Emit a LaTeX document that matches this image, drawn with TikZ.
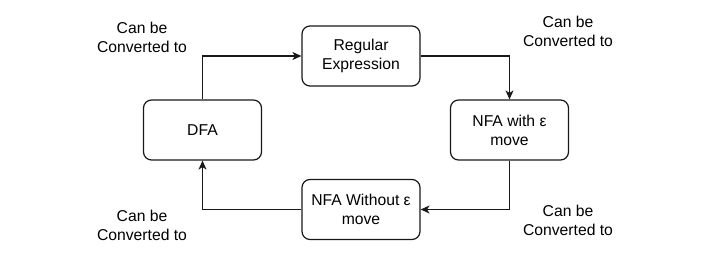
\documentclass[tikz,border=0pt]{standalone}
\usepackage{fontspec}
\setmainfont{Liberation Sans}
\usetikzlibrary{arrows.meta}
\begin{document}
\begin{tikzpicture}[x=1pt,y=-1pt,
  box/.style={draw=black!90, line width=1.2pt, rounded corners=8pt, minimum width=118pt, minimum height=60pt, align=center, inner sep=2pt, font=\fontsize{15.7pt}{19pt}\selectfont},
  lbl/.style={align=center, inner sep=0pt, font=\fontsize{15.7pt}{19pt}\selectfont},
  conn/.style={draw=black!90, line width=1.2pt, -{Stealth[length=9pt,width=8pt,inset=2.5pt]}}]
\useasboundingbox (0,0) rectangle (720,260);
\node[box] (re) at (361,56) {Regular\\Expression};
\node[box] (dfa) at (202.5,130) {DFA};
\node[box] (nfae) at (509.5,130) {NFA with ε\\move};
\node[box] (nfa) at (361,209.5) {NFA Without ε\\move};
\node[lbl] (l1) at (142,37.5) {Can be\\Converted to};
\node[lbl] (l2) at (568,31.5) {Can be\\Converted to};
\node[lbl] (l3) at (142,225.5) {Can be\\Converted to};
\node[lbl] (l4) at (568,220.5) {Can be\\Converted to};
\draw[conn] (dfa.north) |- (re.west);
\draw[conn] (re.east) -| (nfae.north);
\draw[conn] (nfae.south) |- (nfa.east);
\draw[conn] (nfa.west) -| (dfa.south);
\end{tikzpicture}
\end{document}
